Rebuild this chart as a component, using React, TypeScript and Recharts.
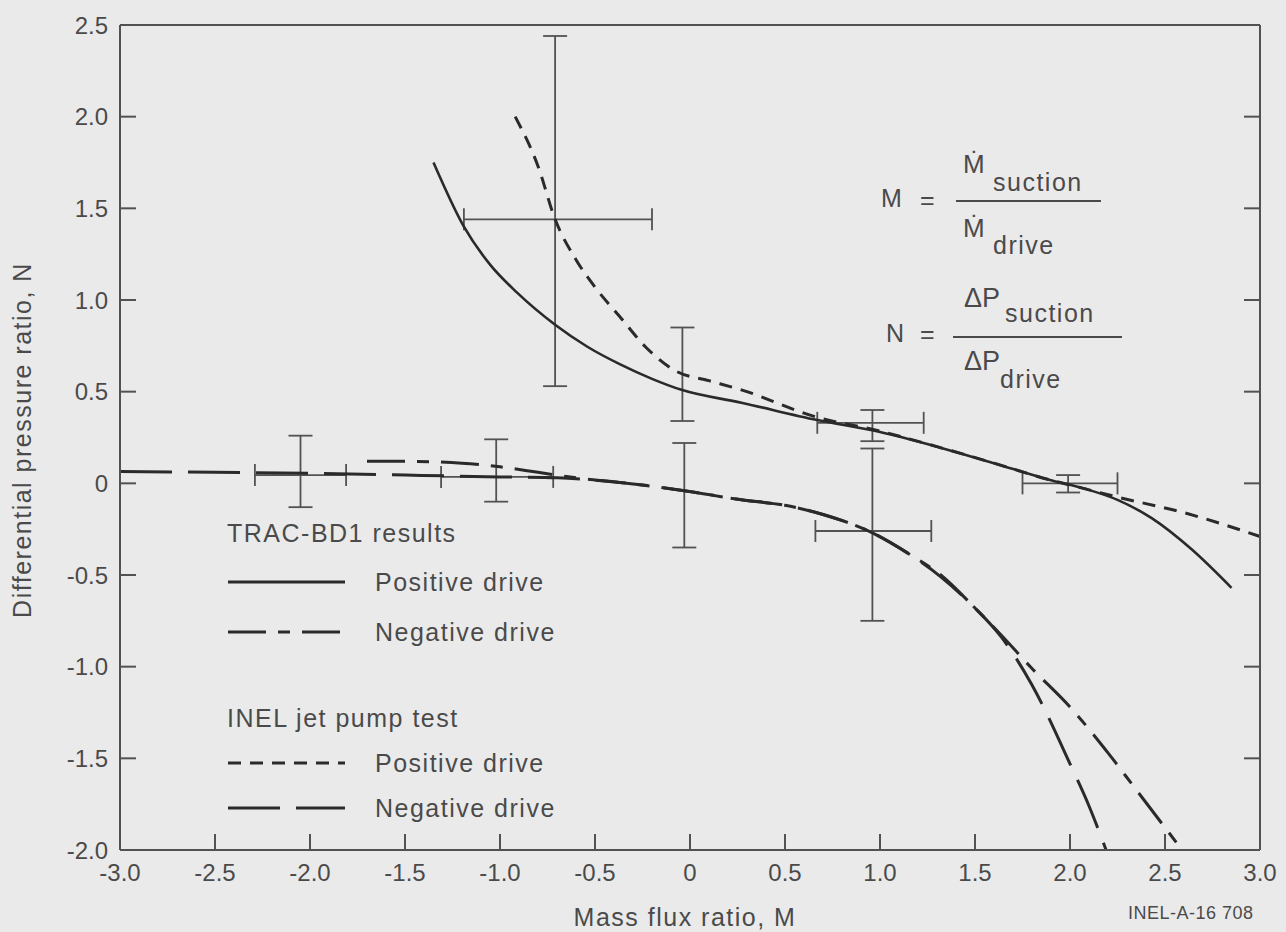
import React from 'react'
import { ComposedChart, Line, Scatter, ErrorBar, XAxis, YAxis, Legend, Label } from 'recharts'

const FONT = '"Liberation Sans", Arial, Helvetica, sans-serif'
const INK = '#2a2a2a'
const AXIS = '#525252'
const TEXT = '#4a4a4a'
const PAPER = '#eaeaea'

const mTicks = [-3, -2.5, -2, -1.5, -1, -0.5, 0, 0.5, 1, 1.5, 2, 2.5, 3]
const nTicks = [-2, -1.5, -1, -0.5, 0, 0.5, 1, 1.5, 2, 2.5]

// TRAC-BD1 results, positive drive
const tracPosM = [-1.35, -1.19, -1.05, -0.91, -0.71, -0.54, -0.37, -0.2, -0.045, 0.27, 0.67, 1.0, 1.3, 1.6, 1.89, 2.08, 2.25, 2.43, 2.64, 2.85]
const tracPosN = [1.75, 1.4, 1.19, 1.04, 0.865, 0.745, 0.65, 0.57, 0.51, 0.44, 0.345, 0.28, 0.2, 0.11, 0.02, -0.03, -0.09, -0.19, -0.36, -0.57]

// TRAC-BD1 results, negative drive
const tracNegM = [-1.7, -1.5, -1.2, -1.0, -0.8, -0.6, -0.37, -0.03, 0.27, 0.5, 0.7, 0.96, 1.16, 1.32, 1.5, 1.64, 1.8, 2.0, 2.2, 2.34, 2.59]
const tracNegN = [0.12, 0.12, 0.11, 0.09, 0.06, 0.03, 0.005, -0.04, -0.09, -0.12, -0.17, -0.27, -0.39, -0.5, -0.68, -0.83, -1.01, -1.22, -1.47, -1.66, -2.0]

// INEL jet pump test, positive drive
const inelPosM = [-0.92, -0.8, -0.71, -0.6, -0.5, -0.37, -0.235, -0.07, 0.1, 0.27, 0.67, 1.0, 1.3, 1.6, 1.89, 2.08, 2.25, 2.6, 3.0]
const inelPosN = [2.0, 1.73, 1.44, 1.22, 1.07, 0.91, 0.745, 0.61, 0.56, 0.51, 0.36, 0.285, 0.2, 0.11, 0.02, -0.03, -0.075, -0.16, -0.29]

// INEL jet pump test, negative drive
const inelNegM = [-3.0, -2.5, -2.0, -1.5, -1.0, -0.7, -0.37, -0.03, 0.27, 0.5, 0.7, 0.96, 1.16, 1.32, 1.5, 1.64, 1.8, 2.0, 2.1, 2.19]
const inelNegN = [0.065, 0.06, 0.055, 0.045, 0.035, 0.03, 0.005, -0.04, -0.09, -0.12, -0.17, -0.27, -0.39, -0.51, -0.68, -0.84, -1.1, -1.53, -1.76, -2.0]

// test data uncertainty bands
const barM = [-2.05, -1.02, -0.71, -0.04, -0.03, 0.96, 0.96, 1.99]
const barN = [0.045, 0.035, 1.44, 0.6, -0.05, 0.33, -0.26, 0.0]
const barNLow = [-0.13, -0.1, 0.53, 0.34, -0.35, 0.23, -0.75, -0.05]
const barNHigh = [0.26, 0.24, 2.44, 0.85, 0.22, 0.4, 0.19, 0.045]
const barMLow = [-2.29, -1.31, -1.19, null, null, 0.67, 0.66, 1.75]
const barMHigh = [-1.81, -0.72, -0.2, null, null, 1.23, 1.27, 2.25]

const DASH_TRAC_NEG = '38 12 12 12'
const DASH_INEL_POS = '13 9'
const DASH_INEL_NEG = '52 16'

const legendGroups = [
  { title: 'TRAC-BD1 results', items: [{ label: 'Positive drive', dash: undefined }, { label: 'Negative drive', dash: DASH_TRAC_NEG }] },
  { title: 'INEL jet pump test', items: [{ label: 'Positive drive', dash: DASH_INEL_POS }, { label: 'Negative drive', dash: DASH_INEL_NEG }] },
]
const legendRowY = [23, 72, 122, 208, 253, 298]

const toPoints = (m: number[], n: number[]) => m.map((v, i) => ({ m: v, n: n[i] }))

const errorRows = barM.map((m, i) => ({
  m,
  n: barN[i],
  ey: [barN[i] - barNLow[i], barNHigh[i] - barN[i]],
  ex: barMLow[i] == null ? null : [m - (barMLow[i] as number), (barMHigh[i] as number) - m],
}))
const horizontalRows = errorRows.filter((r) => r.ex)

const fmt = (v: number) => (v === 0 ? '0' : v.toFixed(1))
const tickText = { fontFamily: FONT, fontSize: 24, fill: TEXT }
const TICK = 16

function BottomTick(props: any) {
  const { x, y, payload } = props
  return (
    <g>
      <line x1={x} x2={x} y1={y} y2={y - TICK} stroke={AXIS} strokeWidth={2} />
      <text x={x} y={y + 31} textAnchor="middle" {...tickText}>{fmt(payload.value)}</text>
    </g>
  )
}

function TopTick(props: any) {
  const { x, y } = props
  return <line x1={x} x2={x} y1={y} y2={y + TICK} stroke={AXIS} strokeWidth={2} />
}

function LeftTick(props: any) {
  const { x, y, payload } = props
  return (
    <g>
      <line x1={x} x2={x + TICK} y1={y} y2={y} stroke={AXIS} strokeWidth={2} />
      <text x={x - 12} y={y} textAnchor="end" dominantBaseline="central" {...tickText}>{fmt(payload.value)}</text>
    </g>
  )
}

function RightTick(props: any) {
  const { x, y } = props
  return <line x1={x} x2={x - TICK} y1={y} y2={y} stroke={AXIS} strokeWidth={2} />
}

const noDot = () => <g />

const labelText = { fontFamily: FONT, fontSize: 25, fill: TEXT, letterSpacing: 1.5 }

function LegendBox() {
  const rows: { title?: string; label?: string; dash?: string }[] = []
  legendGroups.forEach((g) => {
    rows.push({ title: g.title })
    g.items.forEach((it) => rows.push({ label: it.label, dash: it.dash }))
  })
  return (
    <svg width={360} height={320} style={{ display: 'block' }}>
      {rows.map((r, i) =>
        r.title ? (
          <text key={i} x={5} y={legendRowY[i]} dominantBaseline="central" {...labelText}>{r.title}</text>
        ) : (
          <g key={i}>
            <line x1={6} x2={123} y1={legendRowY[i]} y2={legendRowY[i]} stroke={INK} strokeWidth={3} strokeDasharray={r.dash} />
            <text x={153} y={legendRowY[i]} dominantBaseline="central" {...labelText}>{r.label}</text>
          </g>
        )
      )}
    </svg>
  )
}

function Formulas() {
  const t = { fontFamily: FONT, fill: TEXT, dominantBaseline: 'central' as const }
  return (
    <svg width={1286} height={932} style={{ position: 'absolute', left: 0, top: 0, pointerEvents: 'none' }}>
      <text x={881} y={198} fontSize={25} {...t}>M</text>
      <text x={920} y={200} fontSize={25} {...t}>=</text>
      <line x1={956} x2={1101} y1={201} y2={201} stroke={TEXT} strokeWidth={2} />
      <text x={963} y={164} fontSize={26} {...t}>Ṁ</text>
      <text x={993} y={182} fontSize={25} letterSpacing={1.5} {...t}>suction</text>
      <text x={963} y={228} fontSize={26} {...t}>Ṁ</text>
      <text x={993} y={245} fontSize={25} letterSpacing={1.5} {...t}>drive</text>

      <text x={886} y={333} fontSize={25} {...t}>N</text>
      <text x={920} y={334} fontSize={25} {...t}>=</text>
      <line x1={953} x2={1122} y1={337} y2={337} stroke={TEXT} strokeWidth={2} />
      <text x={964} y={298} fontSize={27} {...t}>ΔP</text>
      <text x={1005} y={313} fontSize={25} letterSpacing={1.5} {...t}>suction</text>
      <text x={964} y={361} fontSize={27} {...t}>ΔP</text>
      <text x={1000} y={379} fontSize={25} letterSpacing={1.5} {...t}>drive</text>

      <text x={1128} y={913} fontSize={18} letterSpacing={0.5} {...t}>INEL-A-16  708</text>
    </svg>
  )
}

export default function App() {
  return (
    <div style={{ position: 'absolute', left: 0, top: 0, width: 1286, height: 932, background: PAPER }}>
      <ComposedChart width={1286} height={932} margin={{ top: 24, right: 25, bottom: 51, left: 60 }}>
        <XAxis
          dataKey="m"
          type="number"
          domain={[-3, 3]}
          ticks={mTicks}
          interval={0}
          allowDataOverflow
          height={31}
          tickSize={0}
          tickMargin={0}
          tick={<BottomTick />}
          axisLine={{ stroke: AXIS, strokeWidth: 2 }}
        >
          <Label
            content={() => (
              <text x={685} y={917} textAnchor="middle" dominantBaseline="central" {...labelText}>
                Mass flux ratio, M
              </text>
            )}
          />
        </XAxis>
        <XAxis
          xAxisId="top"
          orientation="top"
          type="number"
          domain={[-3, 3]}
          ticks={mTicks}
          interval={0}
          allowDataOverflow
          height={1}
          tickSize={0}
          tickMargin={0}
          tick={<TopTick />}
          axisLine={{ stroke: AXIS, strokeWidth: 2 }}
        />
        <YAxis
          dataKey="n"
          type="number"
          domain={[-2, 2.5]}
          ticks={nTicks}
          interval={0}
          allowDataOverflow
          width={60}
          tickSize={0}
          tickMargin={0}
          tick={<LeftTick />}
          axisLine={{ stroke: AXIS, strokeWidth: 2 }}
        >
          <Label
            content={() => (
              <text
                transform="translate(22,440) rotate(-90)"
                textAnchor="middle"
                dominantBaseline="central"
                {...labelText}
              >
                Differential pressure ratio, N
              </text>
            )}
          />
        </YAxis>
        <YAxis
          yAxisId="right"
          orientation="right"
          type="number"
          domain={[-2, 2.5]}
          ticks={nTicks}
          interval={0}
          allowDataOverflow
          width={1}
          tickSize={0}
          tickMargin={0}
          tick={<RightTick />}
          axisLine={{ stroke: AXIS, strokeWidth: 2 }}
        />

        <Scatter data={errorRows} dataKey="n" shape={noDot} isAnimationActive={false} legendType="none">
          <ErrorBar dataKey="ey" direction="y" width={12} stroke={AXIS} strokeWidth={1.8} isAnimationActive={false} />
        </Scatter>
        <Scatter data={horizontalRows} dataKey="n" shape={noDot} isAnimationActive={false} legendType="none">
          <ErrorBar dataKey="ex" direction="x" width={11} stroke={AXIS} strokeWidth={1.8} isAnimationActive={false} />
        </Scatter>

        <Line data={toPoints(inelNegM, inelNegN)} dataKey="n" type="monotone" stroke={INK} strokeWidth={3} strokeDasharray={DASH_INEL_NEG} dot={false} isAnimationActive={false} />
        <Line data={toPoints(tracNegM, tracNegN)} dataKey="n" type="monotone" stroke={INK} strokeWidth={3} strokeDasharray={DASH_TRAC_NEG} dot={false} isAnimationActive={false} />
        <Line data={toPoints(inelPosM, inelPosN)} dataKey="n" type="monotone" stroke={INK} strokeWidth={3} strokeDasharray={DASH_INEL_POS} dot={false} isAnimationActive={false} />
        <Line data={toPoints(tracPosM, tracPosN)} dataKey="n" type="monotone" stroke={INK} strokeWidth={2.6} dot={false} isAnimationActive={false} />

        <Legend
          layout="horizontal"
          verticalAlign="middle"
          align="center"
          wrapperStyle={{ left: 222, top: 510, width: 360, height: 320 }}
          content={() => <LegendBox />}
        />
      </ComposedChart>
      <Formulas />
    </div>
  )
}
